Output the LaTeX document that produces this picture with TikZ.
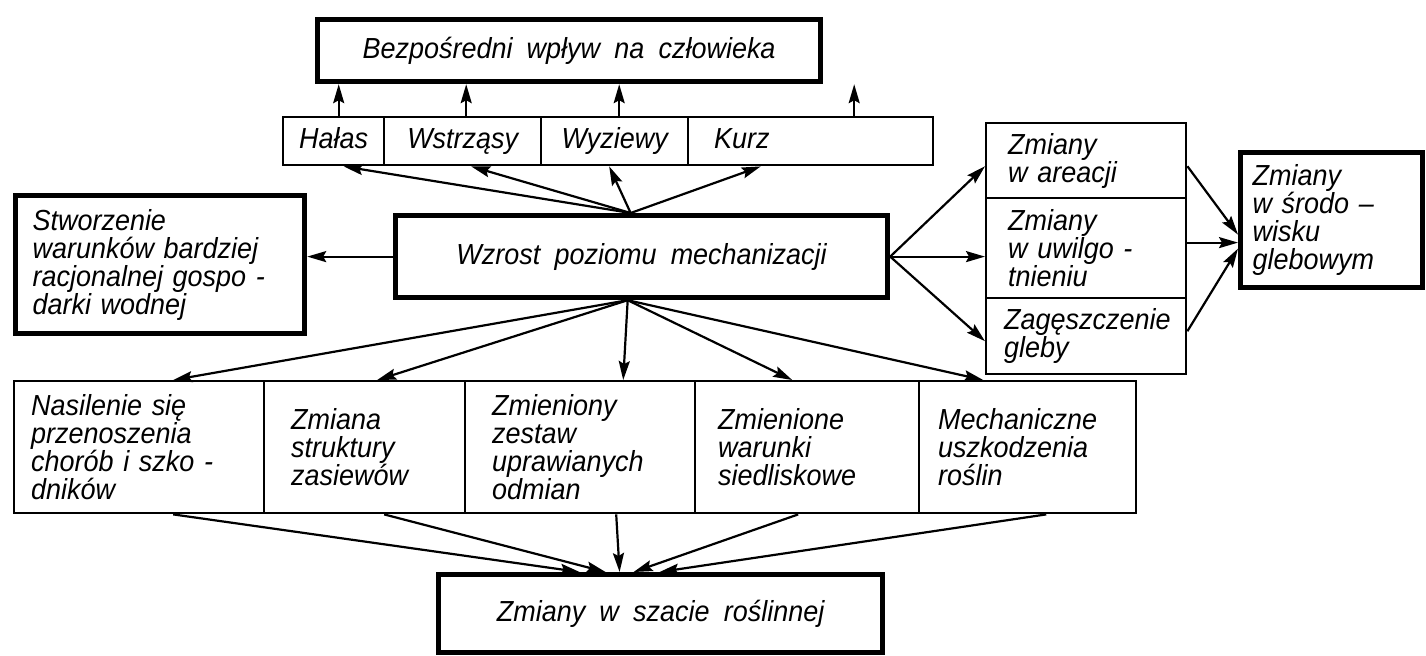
\documentclass[tikz,border=0pt]{standalone}
\usepackage{fontspec}
\setmainfont{Liberation Sans}[FakeStretch=0.93,WordSpace=1.9]
\usetikzlibrary{arrows.meta,calc}
\tikzset{
  base/.style={draw, anchor=north west, inner ysep=2pt, font=\itshape\fontsize{14.5}{14}\selectfont},
  thin/.style={base, line width=1.2pt},
  thickb/.style={base, line width=2.6pt},
  one/.style={text height=10.5pt, text depth=3pt},
  arr/.style={line width=1.1pt, -{Stealth[length=9.5pt,width=5.5pt,inset=1.5pt]}},
}
\begin{document}
\begin{tikzpicture}[x=0.5pt,y=-0.5pt]
\useasboundingbox (0,0) rectangle (1426,655);
% top box
\node[thickb, one, minimum width=251.5pt, minimum height=31pt, align=center] (top) at (315,17) {Bezpośredni\ wpływ na człowieka};
% row of influences
\node[thin, one, minimum width=50.5pt, minimum height=24pt, align=center] (hal) at (282,116) {Hałas};
\node[thin, one, minimum width=78.5pt, minimum height=24pt, align=center] (wst) at (383,116) {Wstrząsy};
\node[thin, one, minimum width=73.5pt, minimum height=24pt, align=center] (wyz) at (540,116) {Wyziewy};
\node[thin, one, minimum width=122.5pt, minimum height=24pt, inner xsep=13pt, text width=96.5pt, align=left] (kur) at (687,116) {Kurz};
% central
\node[thickb, one, minimum width=246pt, minimum height=41pt, align=center] (wzr) at (393,213) {Wzrost poziomu mechanizacji};
% left
\node[thickb, minimum width=144.5pt, minimum height=69pt, inner xsep=8.5pt, text width=127.5pt, align=left] (stw) at (13,193) {Stworzenie\\warunków bardziej\\racjonalnej gospo -\\darki wodnej};
% right column
\node[thin, minimum width=100pt, minimum height=37.5pt, inner xsep=11pt, text width=78pt, align=left] (are) at (985,122) {Zmiany\\w areacji};
\node[thin, minimum width=100pt, minimum height=50pt, inner xsep=11pt, text width=78pt, align=left] (uwi) at (985,197) {Zmiany\\w uwilgo -\\tnieniu};
\node[thin, minimum width=100pt, minimum height=38pt, inner xsep=9pt, text width=82pt, align=left] (zag) at (985,297) {Zagęszczenie\\gleby};
% far right
\node[thickb, minimum width=91pt, minimum height=67.5pt, inner xsep=6pt, text width=79pt, align=left] (far) at (1238,150) {Zmiany\\w środo –\\wisku\\glebowym};
% bottom row
\node[thin, minimum width=125pt, minimum height=66pt, inner xsep=8.5pt, text width=108pt, align=left] (nas) at (13,380) {Nasilenie się\\przenoszenia\\chorób i szko -\\dników};
\node[thin, minimum width=100.5pt, minimum height=66pt, inner xsep=13.5pt, text width=73.5pt, align=left] (zmi) at (263,380) {Zmiana\\struktury\\zasiewów};
\node[thin, minimum width=115pt, minimum height=66pt, inner xsep=13.5pt, text width=88pt, align=left] (zmy) at (464,380) {Zmieniony\\zestaw\\uprawianych\\odmian};
\node[thin, minimum width=112pt, minimum height=66pt, inner xsep=11.5pt, text width=89pt, align=left] (zme) at (694,380) {Zmienione\\warunki\\siedliskowe};
\node[thin, minimum width=108.5pt, minimum height=66pt, inner xsep=9.5pt, text width=89.5pt, align=left] (mec) at (918,380) {Mechaniczne\\uszkodzenia\\roślin};
% bottom box
\node[thickb, one, minimum width=222pt, minimum height=39pt, align=center] (sza) at (436,572) {Zmiany w szacie roślinnej};

% arrows up to top box
\foreach \n/\d in {hal/5, wst/3.5, wyz/4.5, kur/43.5}{
  \coordinate (u\n) at ($(\n.north)+(\d,0)$);
  \draw[arr] (u\n) -- (u\n |- top.south);
}
% from central to influences
\coordinate (apT) at ($(wzr.north west)!0.478!(wzr.north east)$);
\draw[arr] (apT) -- ($(hal.south)+(10,0)$);
\draw[arr] (apT) -- ($(wst.south)+(8.5,0)$);
\draw[arr] (apT) -- ($(wyz.south)+(-5.5,0)$);
\draw[arr] (apT) -- ($(kur.south)+(-50,0)$);
% to left
\draw[arr] (wzr.west) -- (wzr.west -| stw.east);
% to right column
\draw[arr] (wzr.east) -- ($(are.west)+(0,5.5)$);
\draw[arr] (wzr.east) -- (wzr.east -| uwi.west);
\draw[arr] (wzr.east) -- ($(zag.west)+(0,5)$);
% right column to far right
\draw[arr] ($(are.east)+(0,5.5)$) -- ($(far.west)+(0,14.5)$);
\coordinate (fu) at ($(far.west)+(0,22.5)$);
\draw[arr] (fu -| uwi.east) -- (fu);
\draw[arr] ($(zag.east)+(0,-5)$) -- ($(far.west)+(0,28.5)$);
% central to bottom row
\coordinate (apB) at ($(wzr.south west)!0.472!(wzr.south east)$);
\draw[arr] (apB) -- ($(nas.north)+(34,0)$);
\draw[arr] (apB) -- ($(zmi.north)+(12.5,0)$);
\draw[arr] (apB) -- ($(zmy.north)+(43,0)$);
\draw[arr] (apB) -- ($(zme.north)+(-15,0)$);
\draw[arr] (apB) -- ($(mec.north)+(-44.5,0)$);
% bottom row to bottom box
\draw[arr] ($(nas.south)+(34,0)$) -- ($(sza.north)+(-81,0)$);
\draw[arr] ($(zmi.south)+(19.5,0)$) -- ($(sza.north)+(-55,0)$);
\draw[arr] ($(zmy.south)+(36,0)$) -- ($(sza.north)+(-41,0)$);
\draw[arr] ($(zme.south)+(-9,0)$) -- ($(sza.north)+(-27,0)$);
\draw[arr] ($(mec.south)+(18.5,0)$) -- ($(sza.north)+(-1,0)$);
\end{tikzpicture}
\end{document}
